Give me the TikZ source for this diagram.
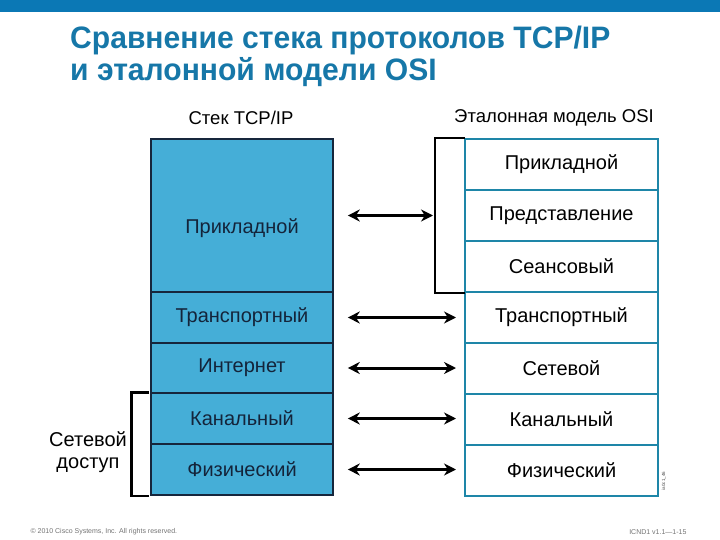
\documentclass[tikz,border=0pt]{standalone}
\usepackage{fontspec}
\setmainfont{Liberation Sans}
\usetikzlibrary{arrows.meta}
\definecolor{topbar}{HTML}{0B78B5}
\definecolor{titlec}{HTML}{1677A8}
\definecolor{leftfill}{HTML}{45AED7}
\definecolor{leftline}{HTML}{16263C}
\definecolor{rightline}{HTML}{1E86A8}
\definecolor{lefttext}{HTML}{14243A}
\tikzset{
  tcp/.style={draw=leftline, line width=1.6pt, fill=leftfill, text=lefttext,
    minimum width=182pt, inner sep=0pt, font=\fontsize{20}{23}\selectfont},
  osi/.style={draw=rightline, line width=2pt, fill=white, text=black,
    minimum width=193pt, minimum height=51pt, inner sep=0pt, font=\fontsize{20}{23}\selectfont},
  hdr/.style={font=\fontsize{18.5}{21}\selectfont, text=black},
  dbl/.style={line width=3pt, {Stealth[length=12pt,width=12pt]}-{Stealth[length=12pt,width=12pt]}},
  brk/.style={line width=2.6pt, black},
  foot/.style={font=\fontsize{7}{8}\selectfont, text=black!55, anchor=west}
}
\begin{document}
\begin{tikzpicture}[x=1pt,y=-1pt]
\useasboundingbox (0,0) rectangle (720,540);
\fill[topbar] (0,0) rectangle (720,12);
\node[anchor=north west, inner sep=0pt, text=titlec, align=left,
  font=\fontsize{31}{32}\selectfont\bfseries] (title) at (70,26)
  {\scalebox{0.97}[1]{Сравнение стека протоколов TCP/IP}\\\scalebox{0.97}[1]{и эталонной модели OSI}};

\node[hdr] (h1) at (241,118) {Стек TCP/IP};
\node[hdr] (h2) at (554,118) {Эталонная модель OSI};

% TCP/IP stack
\node[tcp, minimum height=153pt] (t1) at (242,215.5) {\raisebox{-18pt}[0pt][0pt]{Прикладной}};
\node[tcp, minimum height=51pt] (t2) at (242,317.5) {Транспортный};
\node[tcp, minimum height=50pt] (t3) at (242,368) {Интернет};
\node[tcp, minimum height=51pt] (t4) at (242,418.5) {Канальный};
\node[tcp, minimum height=51pt] (t5) at (242,469.5) {Физический};

% OSI model
\node[osi] (o1) at (561.5,164.5) {Прикладной};
\node[osi] (o2) at (561.5,215.5) {Представление};
\node[osi] (o3) at (561.5,266.5) {Сеансовый};
\node[osi] (o4) at (561.5,317.5) {Транспортный};
\node[osi] (o5) at (561.5,368.5) {Сетевой};
\node[osi] (o6) at (561.5,419.5) {Канальный};
\node[osi] (o7) at (561.5,470.5) {Физический};

% bracket right
\draw[brk] ([xshift=1pt]o1.north west) -- ++(-30,0) coordinate (bt) |- ([xshift=1pt]o3.south west);
\coordinate (bm) at (bt |- o2.west);

% bracket left
\draw[brk] ([xshift=-1pt]t4.north west) -- ++(-18,0) |- ([xshift=-1pt]t5.south west);
\node[font=\fontsize{20}{22}\selectfont, align=center] (na) at (88,452) {Сетевой\\доступ};

% arrows
\draw[dbl] ([xshift=14pt]t1.east) -- ([xshift=-2pt]bm);
\draw[dbl] ([xshift=14pt]t2.east) -- ([xshift=-8pt]o4.west |- t2.east);
\draw[dbl] ([xshift=14pt]t3.east) -- ([xshift=-8pt]o5.west |- t3.east);
\draw[dbl] ([xshift=14pt]t4.east) -- ([xshift=-8pt]o6.west |- t4.east);
\draw[dbl] ([xshift=14pt]t5.east) -- ([xshift=-8pt]o7.west |- t5.east);

\node[rotate=90, font=\fontsize{4.5}{5}\selectfont, text=black!70] (code) at (664,481) {ia0c1\_46};

\node[foot] (f1) at (27,532) {© 2010 Cisco Systems, Inc. All rights reserved.};
\node[foot, anchor=east] (f2) at (690,532) {ICND1 v1.1—1-15};
\end{tikzpicture}
\end{document}
